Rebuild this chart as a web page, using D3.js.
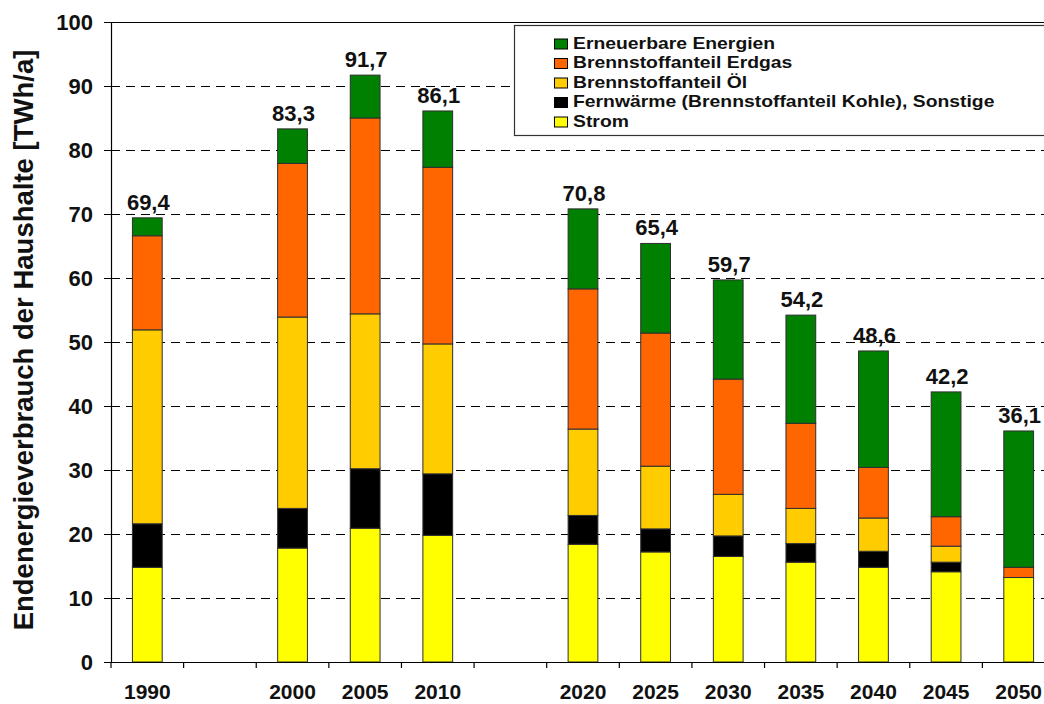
<!DOCTYPE html>
<html>
<head>
<meta charset="utf-8">
<script src="https://cdn.jsdelivr.net/npm/d3@7"></script>
<style>
  html, body { margin: 0; padding: 0; background: #fff; }
  svg { display: block; font-family: "Liberation Sans", Arial, sans-serif; }
</style>
</head>
<body>
<svg id="chart" width="1044" height="704"></svg>
<script>
// ---- data ----
const categories = ["1990","2000","2005","2010","2020","2025","2030","2035","2040","2045","2050"];
// axis slots (empty slots keep the gaps between 1990/2000 and 2010/2020)
const slots = ["1990","_gap1","2000","2005","2010","_gap2","2020","2025","2030","2035","2040","2045","2050"];
const strom       = [14.8, 17.8, 20.9, 19.8, 18.4, 17.2, 16.5, 15.6, 14.8, 14.1, 13.2];
const fernwaerme  = [ 6.8,  6.2,  9.3,  9.6,  4.5,  3.6,  3.2,  2.9,  2.5,  1.5,  0.0];
const oel         = [30.3, 29.9, 24.2, 20.3, 13.5,  9.8,  6.5,  5.5,  5.2,  2.5,  0.0];
const erdgas      = [14.7, 24.0, 30.6, 27.6, 21.9, 20.8, 18.0, 13.3,  7.9,  4.6,  1.6];
const erneuerbare = [ 2.8,  5.4,  6.7,  8.8, 12.5, 14.0, 15.5, 16.9, 18.2, 19.5, 21.3];
const totals      = [69.4, 83.3, 91.7, 86.1, 70.8, 65.4, 59.7, 54.2, 48.6, 42.2, 36.1];
const yTicks = [0, 10, 20, 30, 40, 50, 60, 70, 80, 90, 100];
const seriesKeys  = ["strom", "fern", "oel", "gas", "ee"];           // stack order bottom -> top
const seriesNames = ["Strom", "Fernwärme (Brennstoffanteil Kohle), Sonstige",
                     "Brennstoffanteil Öl", "Brennstoffanteil Erdgas", "Erneuerbare Energien"];
const seriesColors = ["#FFFF00", "#000000", "#FFCC00", "#FF6600", "#008000"];
const yTitle = "Endenergieverbrauch der Haushalte [TWh/a]";

// ---- layout ----
const svg = d3.select("#chart");
const pLeft = 111, pRight = 1055, pTop = 22, pBottom = 662;

const x = d3.scaleBand().domain(slots).range([pLeft, pRight]).padding(0);
const y = d3.scaleLinear().domain([0, 100]).range([pBottom, pTop]);
const barW = x.bandwidth() * 0.41;

const rows = categories.map((c, i) => ({
  cat: c, strom: strom[i], fern: fernwaerme[i], oel: oel[i], gas: erdgas[i], ee: erneuerbare[i], total: totals[i]
}));
const stacked = d3.stack().keys(seriesKeys)(rows);
const color = d3.scaleOrdinal().domain(seriesKeys).range(seriesColors);

// gridlines
svg.append("g").selectAll("line")
  .data(yTicks.filter(t => t > 0))
  .join("line")
  .attr("x1", pLeft).attr("x2", pRight)
  .attr("y1", d => y(d)).attr("y2", d => y(d))
  .attr("stroke", "#000").attr("stroke-width", 1)
  .attr("stroke-dasharray", d => d === 100 ? null : "9,6")
  .attr("shape-rendering", "crispEdges");

// bars
const layers = svg.append("g").selectAll("g")
  .data(stacked).join("g")
  .attr("fill", d => color(d.key));
layers.selectAll("rect")
  .data(d => d)
  .join("rect")
  .attr("x", d => x(d.data.cat) + (x.bandwidth() - barW) / 2)
  .attr("width", barW)
  .attr("y", d => y(d[1]))
  .attr("height", d => y(d[0]) - y(d[1]))
  .attr("stroke", "#2e2e2e").attr("stroke-width", 1);

// total labels
const fmt = d3.formatLocale({decimal: ",", thousands: ".", grouping: [3], currency: ["", " €"]}).format(".1f");
svg.append("g").selectAll("text")
  .data(rows).join("text")
  .attr("x", d => x(d.cat) + x.bandwidth() / 2 + 1)
  .attr("y", d => y(d.total) - 8)
  .attr("text-anchor", "middle")
  .attr("font-size", 22).attr("font-weight", "bold").attr("fill", "#111")
  .text(d => fmt(d.total));

// y axis
const yAxis = d3.axisLeft(y).tickValues(yTicks).tickSize(7).tickPadding(11).tickFormat(d3.format("d"));
const gy = svg.append("g").attr("transform", `translate(${pLeft},0)`).call(yAxis);
gy.select(".domain").attr("stroke", "#000").attr("stroke-width", 1.2);
gy.selectAll(".tick line").attr("stroke", "#000");
gy.selectAll(".tick text").attr("font-size", 22).attr("font-weight", "bold")
  .attr("font-family", "'Liberation Sans', Arial, sans-serif").attr("fill", "#111");

// x axis (labels at centres, ticks at slot boundaries)
const xAxis = d3.axisBottom(x).tickSize(0).tickPadding(0)
  .tickFormat(d => d.startsWith("_") ? "" : d);
const gx = svg.append("g").attr("transform", `translate(0,${pBottom})`).call(xAxis);
gx.select(".domain").attr("stroke", "#000").attr("stroke-width", 1.2);
gx.selectAll(".tick text").attr("font-size", 21).attr("font-weight", "bold")
  .attr("font-family", "'Liberation Sans', Arial, sans-serif").attr("fill", "#111")
  .attr("y", 37).attr("dy", null);
gx.selectAll("line.bound")
  .data(slots.map(s => x(s)).concat([x.range()[1]]))
  .join("line").attr("class", "bound")
  .attr("x1", d => d).attr("x2", d => d)
  .attr("y1", 0).attr("y2", 6)
  .attr("stroke", "#000").attr("stroke-width", 1.2);

// y title
svg.append("text")
  .attr("transform", `translate(33,340) rotate(-90)`)
  .attr("text-anchor", "middle")
  .attr("font-size", 27.5).attr("font-weight", "bold").attr("fill", "#111")
  .text(yTitle);

// legend
const lg = svg.append("g");
lg.append("rect")
  .attr("x", 514.5).attr("y", 25.5).attr("width", 560).attr("height", 110)
  .attr("fill", "#fff").attr("stroke", "#333").attr("stroke-width", 1.2);
const legendOrder = [4, 3, 2, 1, 0];
const items = lg.selectAll("g.item")
  .data(legendOrder)
  .join("g").attr("class", "item")
  .attr("transform", (d, i) => `translate(554,${48.5 + i * 19.5})`);
items.append("rect")
  .attr("x", 0.5).attr("y", -9.5).attr("width", 13).attr("height", 10)
  .attr("fill", d => seriesColors[d]).attr("stroke", "#000").attr("stroke-width", 1);
items.append("text")
  .attr("transform", "translate(19,0) scale(1.21,1)")
  .attr("font-size", 16).attr("font-weight", "bold").attr("fill", "#111")
  .text(d => seriesNames[d]);
</script>
</body>
</html>
